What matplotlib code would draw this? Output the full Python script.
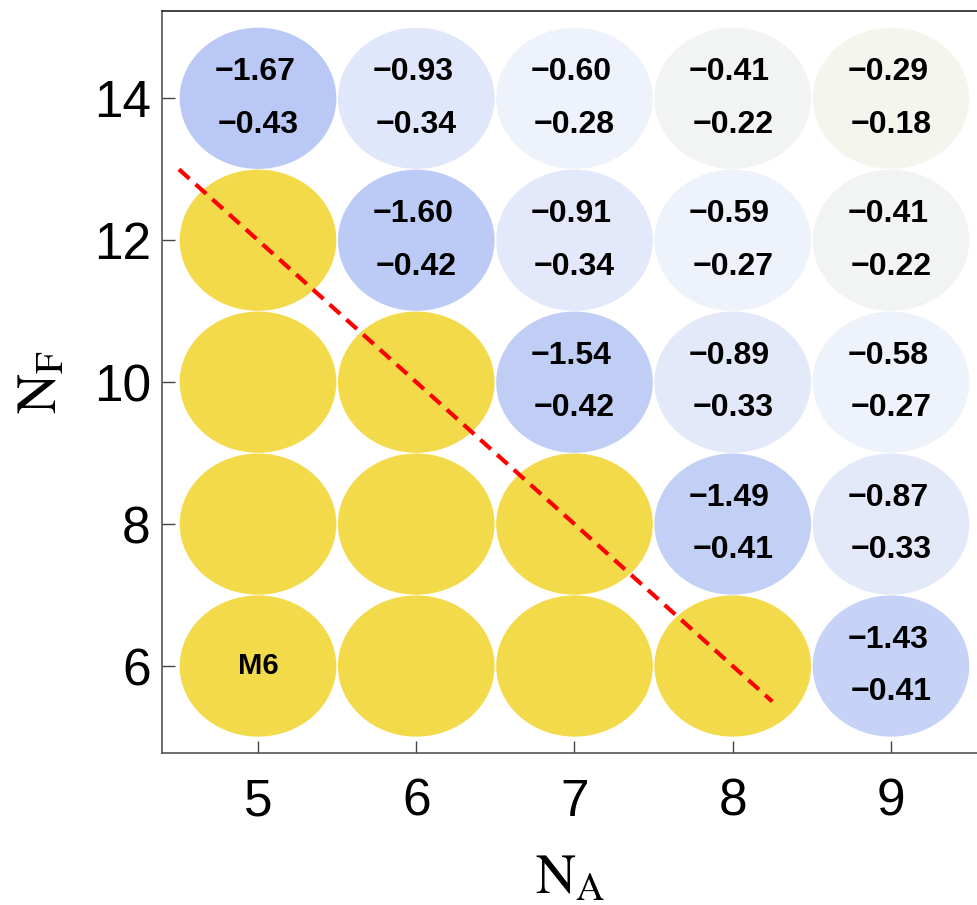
import matplotlib
matplotlib.use("Agg")
import matplotlib.pyplot as plt
import numpy as np
from matplotlib.colors import LinearSegmentedColormap, Normalize
from matplotlib.patches import Ellipse

# grid of models
na_values = [5, 6, 7, 8, 9]
nf_values = [6, 8, 10, 12, 14]

# first (upper) number in each disc, rows follow nf_values, None = excluded
upper_vals = [
    [None, None, None, None, -1.43],
    [None, None, None, -1.49, -0.87],
    [None, None, -1.54, -0.89, -0.58],
    [None, -1.60, -0.91, -0.59, -0.41],
    [-1.67, -0.93, -0.60, -0.41, -0.29],
]
# second (lower) number
lower_vals = [
    [None, None, None, None, -0.41],
    [None, None, None, -0.41, -0.33],
    [None, None, -0.42, -0.33, -0.27],
    [None, -0.42, -0.34, -0.27, -0.22],
    [-0.43, -0.34, -0.28, -0.22, -0.18],
]
marked_label = "M6"
marked_cell = (5, 6)

# dashed boundary
boundary_na = [4.5, 8.25]
boundary_nf = [13.0, 5.5]

YELLOW = "#F3DA4A"
cmap = LinearSegmentedColormap.from_list(
    "bluewhite",
    [(0.0, "#B7C7F4"), (0.55, "#E3E8FA"), (0.76, "#EEF2FB"), (0.9, "#F2F4F2"), (1.0, "#F5F7EC")],
)
norm = Normalize(vmin=-1.7, vmax=-0.25)

plt.rcParams.update({
    "font.family": ["Liberation Sans", "DejaVu Sans"],
    "mathtext.fontset": "stix",
})

fig = plt.figure(figsize=(9.78, 9.05), dpi=100)
ax = fig.add_axes([0.1656, 0.168, 0.8344, 0.8198])

for i, nf in enumerate(nf_values):
    for j, na in enumerate(na_values):
        v1 = upper_vals[i][j]
        v2 = lower_vals[i][j]
        color = YELLOW if v1 is None else cmap(norm(v1))
        ax.add_patch(Ellipse((na, nf), 0.99, 1.99, facecolor=color, edgecolor="none", zorder=1))
        if v1 is not None:
            ax.text(na - 0.02, nf + 0.37, f"\u2212{abs(v1):.2f}", ha="center", va="center",
                    fontsize=23, fontweight="bold", zorder=3)
            ax.text(na, nf - 0.37, f"\u2212{abs(v2):.2f}", ha="center", va="center",
                    fontsize=23, fontweight="bold", zorder=3)

ax.text(marked_cell[0], marked_cell[1], marked_label, ha="center", va="center",
        fontsize=21, fontweight="bold", zorder=3)

ax.plot(boundary_na, boundary_nf, color="#FF0000", linewidth=3.0,
        linestyle=(0, (3.4, 2.0)), zorder=2)

ax.set_xlim(4.393, 9.55)
ax.set_ylim(4.775, 15.23)
ax.set_xticks(na_values)
ax.set_yticks(nf_values)
ax.tick_params(direction="in", length=9, width=1.0, labelsize=37, color="#444444")
ax.tick_params(axis="x", pad=18)
ax.tick_params(axis="y", pad=8)
for side in ("left", "bottom"):
    ax.spines[side].set_color("#555555")
    ax.spines[side].set_linewidth(1.2)
ax.spines["top"].set_color("#222222")
ax.spines["top"].set_linewidth(1.2)
ax.spines["right"].set_visible(False)

ax.set_xlabel(r"$\mathrm{N_A}$", fontsize=40, labelpad=19)
ax.set_ylabel(r"$\mathrm{N_F}$", fontsize=40, labelpad=18)

fig.savefig("out.png", dpi=100)
